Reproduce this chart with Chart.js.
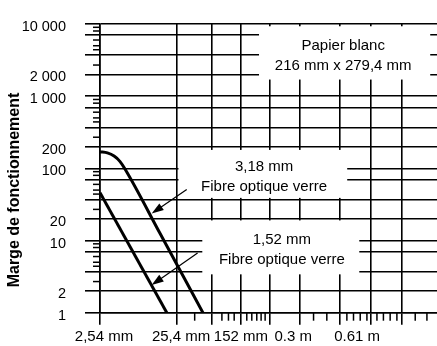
<!DOCTYPE html>
<html>
<head>
<meta charset="utf-8">
<script src="https://cdn.jsdelivr.net/npm/chart.js@4.4.1/dist/chart.umd.min.js"></script>
<style>
html, body { margin: 0; padding: 0; background: #fff; }
</style>
</head>
<body>
<canvas id="chart" width="437" height="346"></canvas>
<script>
var FONT = "'Liberation Sans', Arial, sans-serif";

// courbes : distance (mm) / marge de fonctionnement
var fibre318X = [2.54, 3.17, 3.87, 4.60, 5.36, 15.3, 55];
var fibre318Y = [170, 164, 148, 125, 98, 12.5, 1];
var fibre152X = [2.54, 18.7];
var fibre152Y = [46, 1];

// axe vertical
var yGridValues = [1, 2, 3.7, 7, 10, 20, 37, 70, 100, 200, 370, 700, 1000, 2000, 3700, 7000, 10000];
var yLabelValues = [1, 2, 10, 20, 100, 200, 1000, 2000, 10000];
var yLabels = ['1', '2', '10', '20', '100', '200', '1 000', '2 000', '10 000'];
var yMinorSteps = [2.7, 4.4, 5, 6, 8, 9];

// axe horizontal
var xGridValues = [2.54, 25.4, 72, 172, 410, 990, 3270, 8400, 21200];
var xLabelValues = [2.54, 25.4, 152, 725, 4900];
var xLabels = ['2,54 mm', '25,4 mm', '152 mm', '0.3 m', '0.61 m'];
var xMinorValues = [43, 97, 118, 140, 204, 237, 275, 313, 353, 1500, 2230, 4060, 4950, 6050, 7390, 9970, 12100, 14800, 18100, 31300, 44400];

// textes sur fond blanc et fleches
var notes = [
    { box: [294, 49000, 1700, 9300], at: [3640, 5040], lines: ['Papier blanc', '216 mm x 279,4 mm'] },
    { box: [26.5, 4100, 39, 180], at: [342, 105], lines: ['3,18 mm', 'Fibre optique verre'] },
    { box: [54, 5880, 3.4, 19], at: [582, 10.1], lines: ['1,52 mm', 'Fibre optique verre'] }
];
var arrows = [
    { from: [33.9, 51], to: [11.9, 23.7] },
    { from: [46.9, 6.7], to: [11.9, 2.42] }
];

function toPoints(xs, ys) {
    var pts = [];
    for (var i = 0; i < xs.length; i++) {
        pts.push({ x: xs[i], y: ys[i] });
    }
    return pts;
}

var xTicks = xGridValues.concat(xLabelValues.filter(function (v) {
    return xGridValues.indexOf(v) < 0;
})).sort(function (a, b) { return a - b; });

var extras = {
    id: 'extras',
    beforeDatasetsDraw: function (chart) {
        var ctx = chart.ctx;
        var xs = chart.scales.x, ys = chart.scales.y;
        ctx.save();
        notes.forEach(function (n) {
            var l = xs.getPixelForValue(n.box[0]), r = xs.getPixelForValue(n.box[1]);
            var b = ys.getPixelForValue(n.box[2]), t = ys.getPixelForValue(n.box[3]);
            ctx.fillStyle = '#fff';
            ctx.fillRect(l, t, r - l, b - t);
            ctx.fillStyle = '#000';
            ctx.font = '15px ' + FONT;
            ctx.textAlign = 'center';
            ctx.textBaseline = 'middle';
            var cx = xs.getPixelForValue(n.at[0]), cy = ys.getPixelForValue(n.at[1]);
            n.lines.forEach(function (s, i) {
                ctx.fillText(s, cx, cy + i * 20);
            });
        });
        ctx.restore();
    },
    afterDraw: function (chart) {
        var ctx = chart.ctx;
        var xs = chart.scales.x, ys = chart.scales.y;
        var area = chart.chartArea;
        ctx.save();
        ctx.strokeStyle = '#000';
        ctx.fillStyle = '#000';
        ctx.lineWidth = 1.5;
        // petites graduations
        for (var d = 1; d <= 1000; d *= 10) {
            yMinorSteps.forEach(function (s) {
                var py = ys.getPixelForValue(s * d);
                ctx.beginPath();
                ctx.moveTo(area.left - 7, py);
                ctx.lineTo(area.left, py);
                ctx.stroke();
            });
        }
        xMinorValues.forEach(function (v) {
            var px = xs.getPixelForValue(v);
            ctx.beginPath();
            ctx.moveTo(px, area.bottom);
            ctx.lineTo(px, area.bottom + 8);
            ctx.stroke();
        });
        // fleches
        ctx.lineWidth = 1.2;
        arrows.forEach(function (a) {
            var x1 = xs.getPixelForValue(a.from[0]), y1 = ys.getPixelForValue(a.from[1]);
            var x2 = xs.getPixelForValue(a.to[0]), y2 = ys.getPixelForValue(a.to[1]);
            var ang = Math.atan2(y2 - y1, x2 - x1);
            ctx.beginPath();
            ctx.moveTo(x1, y1);
            ctx.lineTo(x2 - 8 * Math.cos(ang), y2 - 8 * Math.sin(ang));
            ctx.stroke();
            ctx.beginPath();
            ctx.moveTo(x2, y2);
            ctx.lineTo(x2 - 12 * Math.cos(ang) + 4 * Math.sin(ang), y2 - 12 * Math.sin(ang) - 4 * Math.cos(ang));
            ctx.lineTo(x2 - 12 * Math.cos(ang) - 4 * Math.sin(ang), y2 - 12 * Math.sin(ang) + 4 * Math.cos(ang));
            ctx.closePath();
            ctx.fill();
        });
        // titre de l'axe vertical
        ctx.translate(15, 190);
        ctx.rotate(-Math.PI / 2);
        ctx.font = 'bold 16px ' + FONT;
        ctx.textAlign = 'center';
        ctx.textBaseline = 'middle';
        ctx.fillText('Marge de fonctionnement', 0, 0);
        ctx.restore();
    }
};

var config = {
    type: 'line',
    data: {
        datasets: [{
            data: toPoints(fibre318X, fibre318Y),
            borderColor: '#000',
            borderWidth: 3,
            pointRadius: 0,
            cubicInterpolationMode: 'monotone'
        }, {
            data: toPoints(fibre152X, fibre152Y),
            borderColor: '#000',
            borderWidth: 3,
            pointRadius: 0
        }]
    },
    options: {
        responsive: false,
        animation: false,
        layout: { padding: { top: 24, right: 0, left: 0, bottom: 0 } },
        plugins: {
            legend: { display: false },
            tooltip: { enabled: false }
        },
        scales: {
            x: {
                type: 'logarithmic',
                min: 2.54,
                max: 60000,
                afterFit: function (s) {
                    s.height = 33.3;
                    s.paddingLeft = 0;
                    s.paddingRight = 0;
                },
                afterBuildTicks: function (s) {
                    s.ticks = xTicks.map(function (v) { return { value: v }; });
                },
                border: { color: '#000', width: 1.6 },
                grid: {
                    lineWidth: 1.6,
                    tickLength: 12,
                    color: function (c) {
                        return c.tick && xGridValues.indexOf(c.tick.value) >= 0 ? '#000' : 'rgba(0,0,0,0)';
                    }
                },
                ticks: {
                    autoSkip: false,
                    maxRotation: 0,
                    padding: 3,
                    labelOffset: 4,
                    color: '#000',
                    font: { family: FONT, size: 15 },
                    callback: function (v) {
                        var i = xLabelValues.indexOf(v);
                        return i >= 0 ? xLabels[i] : '';
                    }
                }
            },
            y: {
                type: 'logarithmic',
                min: 1,
                max: 10000,
                afterFit: function (s) {
                    s.width = 100;
                    s.paddingTop = 0;
                    s.paddingBottom = 0;
                },
                afterBuildTicks: function (s) {
                    s.ticks = yGridValues.map(function (v) { return { value: v }; });
                },
                border: { color: '#000', width: 1.6 },
                grid: { color: '#000', lineWidth: 1.6, tickLength: 15 },
                ticks: {
                    autoSkip: false,
                    padding: 19,
                    labelOffset: 3,
                    color: '#000',
                    font: { family: FONT, size: 14.5 },
                    callback: function (v) {
                        var i = yLabelValues.indexOf(v);
                        return i >= 0 ? yLabels[i] : '';
                    }
                }
            }
        }
    },
    plugins: [extras]
};

var ctx = document.getElementById('chart').getContext('2d');
new Chart(ctx, config);
</script>
</body>
</html>
